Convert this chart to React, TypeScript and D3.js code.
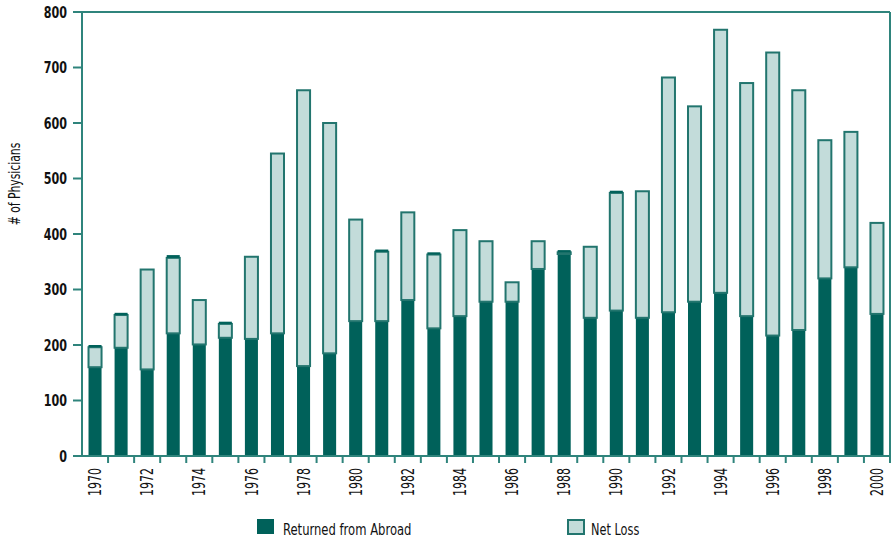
import React from "react";
import * as d3 from "d3";

const years = d3.range(1970, 2001).map(String);
const tickYears = years.filter((_, i) => i % 2 === 0);

// returned from abroad (dark), net loss (light), small dark cap on top of a few bars
const returned = [160, 195, 156, 221, 201, 213, 211, 221, 162, 185, 243, 243, 281, 230, 252, 278, 278, 337, 364, 249, 262, 249, 259, 278, 294, 252, 217, 227, 320, 340, 256];
const netLoss = [36, 59, 180, 136, 80, 25, 148, 324, 497, 415, 183, 125, 158, 133, 155, 109, 35, 50, 3, 128, 212, 228, 423, 352, 474, 420, 510, 432, 249, 244, 164];
const cap = [4, 4, 0, 5, 0, 4, 0, 0, 0, 0, 0, 4, 0, 4, 0, 0, 0, 0, 4, 0, 4, 0, 0, 0, 0, 0, 0, 0, 0, 0, 0];

const yTicks = [0, 100, 200, 300, 400, 500, 600, 700, 800];

const width = 896;
const height = 560;
const margin = { top: 12, right: 6, bottom: 104, left: 82 };

const DARK = "#00615a";
const LIGHT = "#c3dcda";
const STROKE = "#22756e";
const AXIS = "#2f847c";
const FONT = "'DejaVu Sans Condensed', 'DejaVu Sans', sans-serif";

export default function App() {
  const x = d3
    .scaleBand<string>()
    .domain(years)
    .range([margin.left, width - margin.right])
    .paddingInner(0.5)
    .paddingOuter(0.25);

  const y = d3
    .scaleLinear()
    .domain([0, 800])
    .range([height - margin.bottom, margin.top]);

  const rows = years.map((yr, i) => ({
    year: yr,
    returned: returned[i],
    netLoss: netLoss[i],
    cap: cap[i],
  }));

  const series = d3.stack<any>().keys(["returned", "netLoss", "cap"])(rows);

  const x0 = margin.left;
  const x1 = width - margin.right;
  const y0 = y(0);
  const yTop = y(800);
  const step = x.step();
  const bw = x.bandwidth();

  return (
    <svg
      width={width}
      height={height}
      style={{ position: "absolute", left: 0, top: 0, background: "#fff" }}
      fontFamily={FONT}
    >
      {/* frame */}
      <line x1={x0} x2={x1} y1={yTop} y2={yTop} stroke={AXIS} strokeWidth={2} />
      <line x1={x1} x2={x1} y1={yTop} y2={y0} stroke={AXIS} strokeWidth={2} />

      {/* bars */}
      {series.map((s) => (
        <g key={s.key}>
          {s.map((d, i) => {
            const top = y(d[1]);
            const bottom = y(d[0]);
            const h = bottom - top;
            if (h <= 0) return null;
            const isLight = s.key === "netLoss";
            return (
              <rect
                key={i}
                x={x(years[i])}
                y={top}
                width={bw}
                height={h}
                fill={isLight ? LIGHT : DARK}
                stroke={isLight ? STROKE : "none"}
                strokeWidth={isLight ? 2 : 0}
              />
            );
          })}
        </g>
      ))}

      {/* y axis */}
      <line x1={x0} x2={x0} y1={yTop} y2={y0 + 1} stroke={AXIS} strokeWidth={2} />
      {yTicks.map((t) => (
        <g key={t} transform={`translate(0,${y(t)})`}>
          <line x1={x0 - 9} x2={x0} stroke={AXIS} strokeWidth={2} />
          <text
            transform="translate(67,0) scale(0.8,1)"
            dy="0.36em"
            textAnchor="end"
            fontSize={15.5}
            fontWeight={600}
            fill="#111"
          >
            {t}
          </text>
        </g>
      ))}
      <text
        transform={`translate(20,184) rotate(-90) scale(0.8,1)`}
        textAnchor="middle"
        fontSize={15}
        fill="#111"
      >
        # of Physicians
      </text>

      {/* x axis */}
      <line x1={x0 - 9} x2={x1} y1={y0} y2={y0} stroke={AXIS} strokeWidth={2} />
      {years.map((yr) => {
        const bx = (x(yr) as number) + bw + (step - bw) / 2;
        return <line key={yr} x1={bx} x2={bx} y1={y0} y2={y0 + 7} stroke={AXIS} strokeWidth={2} />;
      })}
      {tickYears.map((yr) => (
        <text
          key={yr}
          transform={`translate(${(x(yr) as number) + bw / 2},${y0 + 12}) rotate(-90) scale(0.72,1)`}
          dy="0.36em"
          textAnchor="end"
          fontSize={17}
          fontWeight={500}
          fill="#111"
        >
          {yr}
        </text>
      ))}

      {/* legend */}
      <rect x={257} y={519} width={17} height={15} fill={DARK} />
      <text transform="translate(283,535) scale(0.86,1)" fontSize={15} fill="#111">
        Returned from Abroad
      </text>
      <rect x={568} y={520} width={16} height={14} fill={LIGHT} stroke={STROKE} strokeWidth={2} />
      <text transform="translate(591,535) scale(0.84,1)" fontSize={15} fill="#111">
        Net Loss
      </text>
    </svg>
  );
}
